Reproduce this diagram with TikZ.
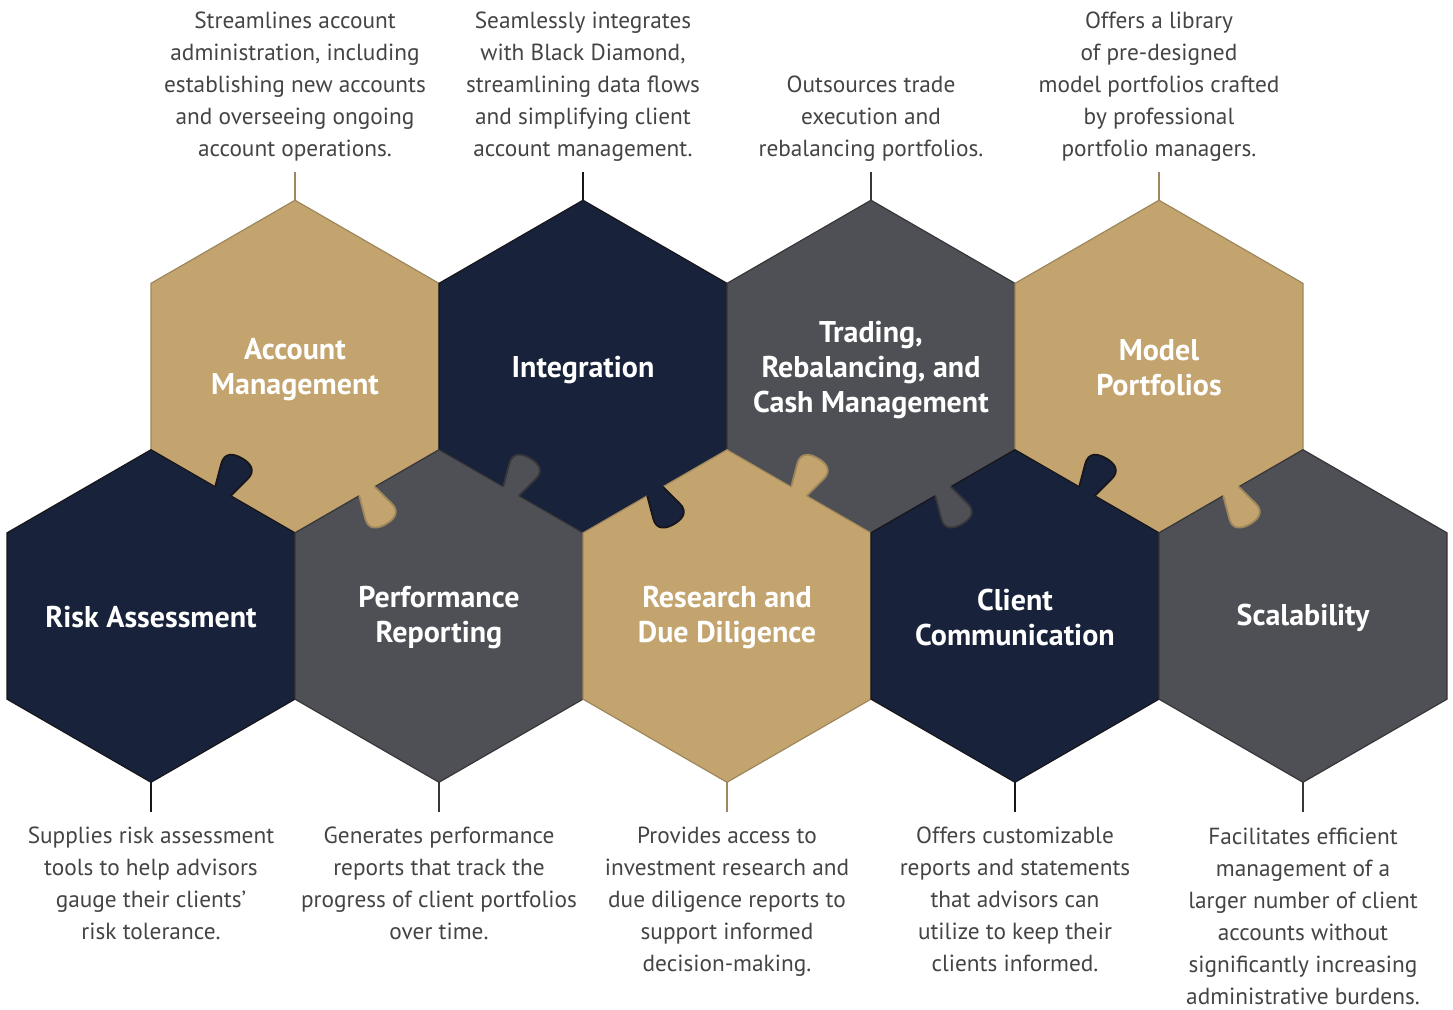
\documentclass[tikz,border=0pt]{standalone}
\usepackage{fontspec}
\setmainfont{PT Sans}
\definecolor{cgold}{RGB}{195,164,110}
\definecolor{cgoldD}{RGB}{158,135,92}
\definecolor{cnavy}{RGB}{24,34,58}
\definecolor{cnavyD}{RGB}{22,22,28}
\definecolor{cgray}{RGB}{79,80,85}
\definecolor{cgrayD}{RGB}{55,55,58}
\definecolor{ctext}{RGB}{68,68,70}
\newcommand\myhex[4]{%
  \filldraw[fill=#3,draw=#4,line width=1.2pt] (#1,#2) ++(0,-166.28) -- ++(144,83.14) -- ++(0,166.28) -- ++(-144,83.14) -- ++(-144,-83.14) -- ++(0,-166.28) -- cycle;}
\newcommand\myknob[5]{%
  \begin{scope}[shift={(#1,#2)},rotate=#3]
  \fill[#4] (-9,-3) -- (-9,0) -- (-15,22) .. controls (-19,35) and (-9,38) .. (0,38) .. controls (9,38) and (19,35) .. (15,22) -- (9,0) -- (9,-3) -- cycle;
  \draw[#5,line width=1.8pt,line join=round] (-9,0) -- (-15,22) .. controls (-19,35) and (-9,38) .. (0,38) .. controls (9,38) and (19,35) .. (15,22) -- (9,0);
  \end{scope}}
\begin{document}
\begin{tikzpicture}[x=1pt,y=-1pt,
  desc/.style={font=\fontsize{23.3}{32}\selectfont, text=ctext, align=center, inner sep=0pt},
  ttl/.style={font=\bfseries\fontsize{30}{35}\selectfont, text=white, align=center, inner sep=0pt},
  conn/.style={line width=2.2pt}]
\useasboundingbox (0,0) rectangle (1453,1009);
% connector coordinates
\foreach \n/\x in {A/295,B/583,C/871,D/1159}{
  \coordinate (l\n) at (\x,172);
  \coordinate (t\n) at (\x,200.2);}
\foreach \n/\x in {E/151,F/439,G/727,H/1015,I/1303}{
  \coordinate (l\n) at (\x,812);
  \coordinate (t\n) at (\x,782.3);}
\draw[conn,cgoldD] (lA) -- (tA);
\draw[conn,cnavyD] (lB) -- (tB);
\draw[conn,cgrayD] (lC) -- (tC);
\draw[conn,cgoldD] (lD) -- (tD);
\draw[conn,cnavyD] (lE) -- (tE);
\draw[conn,cgrayD] (lF) -- (tF);
\draw[conn,cgoldD] (lG) -- (tG);
\draw[conn,cnavyD] (lH) -- (tH);
\draw[conn,cgrayD] (lI) -- (tI);
% top row
\myhex{295}{366.5}{cgold}{cgoldD}
\myhex{583}{366.5}{cnavy}{cnavyD}
\myhex{871}{366.5}{cgray}{cgrayD}
\myhex{1159}{366.5}{cgold}{cgoldD}
% bottom row
\myhex{151}{616}{cnavy}{cnavyD}
\myhex{439}{616}{cgray}{cgrayD}
\myhex{727}{616}{cgold}{cgoldD}
\myhex{1015}{616}{cnavy}{cnavyD}
\myhex{1303}{616}{cgray}{cgrayD}
% puzzle knobs
\myknob{223}{491.2}{150}{cnavy}{cnavyD}
\myknob{367}{491.2}{30}{cgold}{cgoldD}
\myknob{511}{491.2}{150}{cgray}{cgrayD}
\myknob{655}{491.2}{30}{cnavy}{cnavyD}
\myknob{799}{491.2}{150}{cgold}{cgoldD}
\myknob{943}{491.2}{30}{cgray}{cgrayD}
\myknob{1087}{491.2}{150}{cnavy}{cnavyD}
\myknob{1231}{491.2}{30}{cgold}{cgoldD}
% titles
\node[ttl] (nA) at (295,370) {Account\\Management};
\node[ttl] (nB) at (583,370) {Integration};
\node[ttl] (nC) at (871,370) {Trading,\\Rebalancing, and\\Cash Management};
\node[ttl] (nD) at (1159,368) {Model\\Portfolios};
\node[ttl] (nE) at (151,617) {Risk Assessment};
\node[ttl] (nF) at (439,618) {Performance\\Reporting};
\node[ttl] (nG) at (727,618) {Research and\\Due Diligence};
\node[ttl] (nH) at (1015,617) {Client\\Communication};
\node[ttl] (nI) at (1303,618) {Scalability};
% descriptions
\node[desc] (dA) at (295,87) {Streamlines account\\administration, including\\establishing new accounts\\and overseeing ongoing\\account operations.};
\node[desc] (dB) at (583,87) {Seamlessly integrates\\with Black Diamond,\\streamlining data flows\\and simplifying client\\account management.};
\node[desc] (dC) at (871,119) {Outsources trade\\execution and\\rebalancing portfolios.};
\node[desc] (dD) at (1159,87) {Offers a library\\of pre-designed\\model portfolios crafted\\by professional\\portfolio managers.};
\node[desc] (dE) at (151,883) {Supplies risk assessment\\tools to help advisors\\gauge their clients’\\risk tolerance.};
\node[desc] (dF) at (439,883) {Generates performance\\reports that track the\\progress of client portfolios\\over time.};
\node[desc] (dG) at (727,902) {Provides access to\\investment research and\\due diligence reports to\\support informed\\decision-making.};
\node[desc] (dH) at (1015,899) {Offers customizable\\reports and statements\\that advisors can\\utilize to keep their\\clients informed.};
\node[desc] (dI) at (1303,916) {Facilitates efficient\\management of a\\larger number of client\\accounts without\\significantly increasing\\administrative burdens.};
\end{tikzpicture}
\end{document}
